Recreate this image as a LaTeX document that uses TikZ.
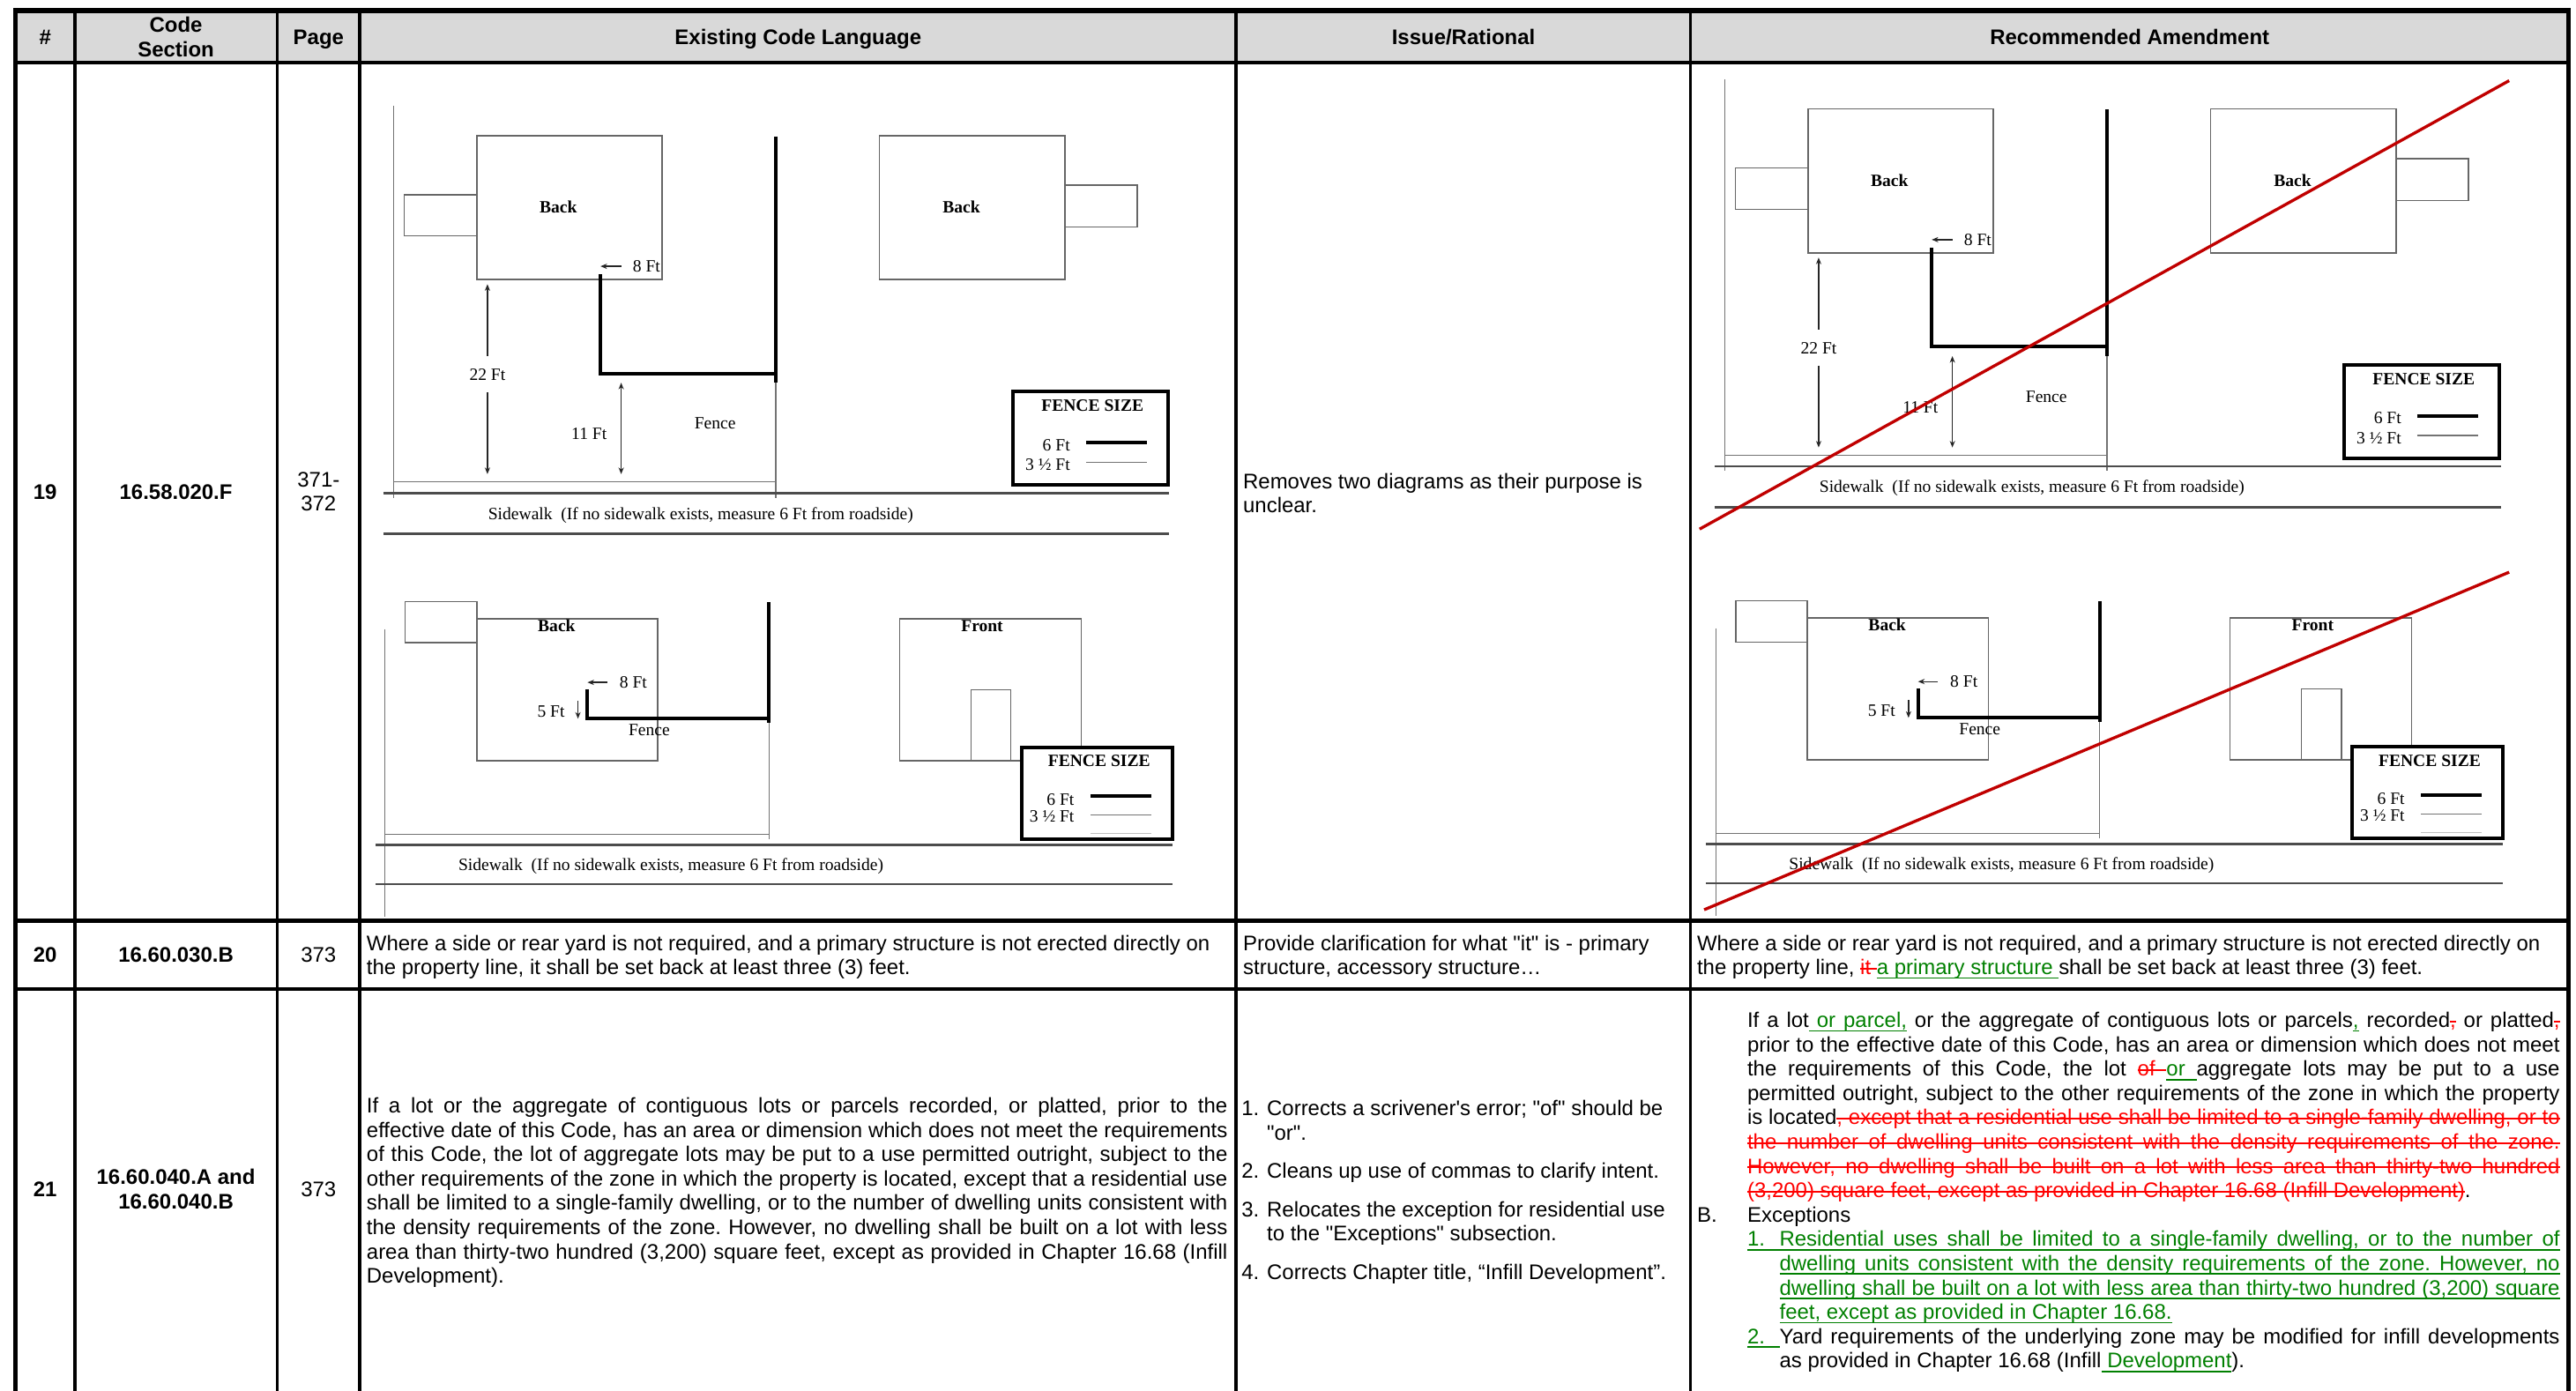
\documentclass[tikz,border=0pt]{standalone}
\usepackage{fontspec}
\setmainfont{Liberation Sans}
\newfontfamily\plainf{Liberation Sans}
\newfontfamily\diafont{Liberation Serif}
\usetikzlibrary{arrows.meta}
\definecolor{insg}{HTML}{008000}
\definecolor{delr}{HTML}{FF0000}
\definecolor{hdrgray}{HTML}{D9D9D9}
\definecolor{xred}{HTML}{C00000}
% own underline / strike-out that keeps spaces stretchable
\newcommand\mkU[1]{\setbox0\hbox{#1}\rlap{\vrule height -1.6pt depth 2.6pt width \wd0}\box0}
\newcommand\mkS[1]{\setbox0\hbox{#1}\rlap{\vrule height 4.1pt depth -3.1pt width \wd0}\box0}
\newcommand\spU{\leaders\hrule height -1.6pt depth 2.6pt\hskip\fontdimen2\font plus\fontdimen3\font minus\fontdimen4\font\relax}
\newcommand\spS{\leaders\hrule height 4.1pt depth -3.1pt\hskip\fontdimen2\font plus\fontdimen3\font minus\fontdimen4\font\relax}
\def\doU#1 #2\relax{\mkU{#1}\ifx\relax#2\relax\else\spU\doU#2\relax\fi}
\def\doS#1 #2\relax{\mkS{#1}\ifx\relax#2\relax\else\spS\doS#2\relax\fi}
\newcommand\ins[1]{{\color{insg}\doU#1 \relax}}
\newcommand\del[1]{{\color{delr}\doS#1 \relax}}
\newcommand\bodyfont{\plainf\fontsize{12.86pt}{14.8pt}\selectfont\frenchspacing}
\newcommand\dfont{\diafont\fontsize{10.5pt}{12pt}\selectfont}
\newcommand\JL[2]{\hbox to #1{#2}}
\tikzset{
  txt/.style={inner sep=0pt, font=\bodyfont},
  hdr/.style={inner sep=0pt, font=\bodyfont\bfseries, align=center},
  dtxt/.style={inner sep=0pt, font=\dfont},
  dbold/.style={inner sep=0pt, font=\dfont\bfseries},
  boxln/.style={draw=black!60, line width=0.8pt},
  thinln/.style={draw=black!55, line width=0.6pt},
  fenceln/.style={draw=black, line width=2.2pt},
  walkln/.style={draw=black!70, line width=1.4pt},
  legbox/.style={draw=black, line width=2pt, fill=white},
  dimarr/.style={draw=black!85, line width=0.7pt, -{Stealth[length=4pt,width=3.2pt]}},
  tabouter/.style={line width=3pt, draw=black},
  tabinner/.style={line width=2pt, draw=black},
  tabrow/.style={line width=2.4pt, draw=black},
  crossout/.style={draw=xred, line width=1.8pt},
  pics/topdiag/.style={code={
    \draw[thinln] (239.5,64.4) -- (239.5,303);
    \draw[thinln] (239.5,293.4) -- (472.2,293.4);
    \draw[boxln] (246,118.5) rectangle (290.2,143.6);
    \draw[boxln] (290.2,82.6) rectangle (403.1,170.2);
    \node[dbold] (-backa) at (339.8,126.1) {Back};
    \draw[dimarr] (378.1,162.1) -- (365.5,162.1);
    \node[dtxt, anchor=west] (-eight) at (385,162.1) {8 Ft};
    \draw[fenceln] (365.5,167) -- (365.5,227.3) -- (472.2,227.3);
    \draw[fenceln] (472.2,83) -- (472.2,233);
    \draw[thinln] (472.2,233) -- (472.2,303);
    \node[dtxt] (-twentytwo) at (296.7,228.2) {22 Ft};
    \draw[dimarr] (296.7,216.7) -- (296.7,173);
    \draw[dimarr] (296.7,238.8) -- (296.7,288.6);
    \draw[dimarr, {Stealth[length=4pt,width=3.2pt]}-{Stealth[length=4pt,width=3.2pt]}] (378.1,233) -- (378.1,288.6);
    \node[dtxt] (-eleven) at (358.6,264.3) {11 Ft};
    \node[dtxt] (-fencea) at (435.3,257.9) {Fence};
    \draw[walkln] (233.4,300.1) -- (711.8,300.1);
    \node[dtxt, anchor=west] (-walka) at (297,313.5) {Sidewalk\ \ (If no sidewalk exists, measure 6 Ft from roadside)};
    \draw[walkln] (233.4,325) -- (711.8,325);
    \draw[boxln] (535.2,82.6) rectangle (648.1,170.2);
    \draw[boxln] (648.1,112.7) rectangle (692.3,138.2);
    \node[dbold] (-backc) at (585.2,126.1) {Back};
    \draw[legbox] (616.6,238.2) rectangle (711.1,295.3);
    \node[dbold] (-fsa) at (665,247) {FENCE SIZE};
    \node[dtxt, anchor=east] (-sixa) at (651.5,270.8) {6 Ft};
    \draw[fenceln] (661,269.3) -- (698,269.3);
    \node[dtxt, anchor=east] (-thra) at (651.5,282.9) {3 ½ Ft};
    \draw[thinln] (661,281.3) -- (698,281.3);
  }},
  pics/botdiag/.style={code={
    \draw[thinln] (234.4,382.9) -- (234.4,558.3);
    \draw[thinln] (234.4,507.8) -- (468.1,507.8);
    \draw[boxln] (246.7,366.2) rectangle (290.2,391.3);
    \draw[boxln] (290.2,376.6) rectangle (400.4,463);
    \node[dbold] (-backb) at (338.8,381) {Back};
    \draw[dimarr] (369.6,415.4) -- (357.6,415.4);
    \node[dtxt, anchor=west] (-eightb) at (377,415.4) {8 Ft};
    \draw[fenceln] (357.6,419.5) -- (357.6,437.1) -- (468.1,437.1);
    \draw[fenceln] (468.1,366.4) -- (468.1,440.1);
    \draw[thinln] (468.1,440.1) -- (468.1,510.8);
    \node[dtxt] (-five) at (335.4,433) {5 Ft};
    \draw[dimarr] (351.8,426.5) -- (351.8,437.5);
    \node[dtxt] (-fenceb) at (395.2,444.6) {Fence};
    \draw[walkln] (228.6,514.4) -- (713.5,514.4);
    \node[dtxt, anchor=west] (-walkb) at (278.9,527.5) {Sidewalk\ \ (If no sidewalk exists, measure 6 Ft from roadside)};
    \draw[walkln] (228.6,538.2) -- (713.5,538.2);
    \draw[boxln] (547.5,376.6) rectangle (658.1,463);
    \node[dbold] (-front) at (597.8,381) {Front};
    \draw[boxln] (591,419.9) rectangle (615.3,463);
    \draw[legbox] (621.8,455) rectangle (713.5,510.8);
    \node[dbold] (-fsb) at (669,463.4) {FENCE SIZE};
    \node[dtxt, anchor=east] (-sixb) at (654,486.7) {6 Ft};
    \draw[fenceln] (663.9,484.5) -- (700.8,484.5);
    \node[dtxt, anchor=east] (-thrb) at (654,497) {3 ½ Ft};
    \draw[thinln] (663.9,496) -- (700.8,496);
    \draw[draw=black!25, line width=0.6pt] (663.9,507.2) -- (700.8,507.2);
  }}
}
\begin{document}
\begin{tikzpicture}[x=1pt,y=-1pt]
\useasboundingbox (0,0) rectangle (1568,846.3);
% header fill
\fill[hdrgray] (9.4,6.3) rectangle (1563.5,38.1);
% diagrams
\pic (et) at (0,0) {topdiag};
\pic (rt) at (810.3,-16.2) {topdiag};
\pic (eb) at (0,0) {botdiag};
\pic (rb) at (809.9,-0.5) {botdiag};
\draw[crossout] (1034.5,322.1) -- (1527.3,49.1);
\draw[crossout] (1037.3,553.8) -- (1527.3,348.3);
% header texts
\node[hdr, anchor=base] (h1) at (27.5,27.3) {\#};
\node[hdr] (h2) at (107.1,22.6) {Code\\Section};
\node[hdr, anchor=base] (h3) at (193.9,27.3) {Page};
\node[hdr, anchor=base] (h4) at (485.8,27.3) {Existing Code Language};
\node[hdr, anchor=base] (h5) at (890.8,27.3) {Issue/Rational};
\node[hdr, anchor=base] (h6) at (1296.3,27.3) {Recommended Amendment};
% row 19
\node[hdr] (n19) at (27.5,299.3) {19};
\node[hdr] (c19) at (107.1,299.3) {16.58.020.F};
\node[txt, align=center] (p19) at (193.9,299.3) {371-\\372};
\node[txt, anchor=base west] (i19) at (756.5,297.5) {\vtop{\bodyfont\hbox{Removes two diagrams as their purpose is}\hbox{unclear.}}};
% row 20
\node[hdr] (n20) at (27.5,581.3) {20};
\node[hdr] (c20) at (107.1,581.3) {16.60.030.B};
\node[txt] (p20) at (193.9,581.3) {373};
\node[txt, anchor=base west] (e20) at (223,578.5) {\vtop{\bodyfont\hbox{Where a side or rear yard is not required, and a primary structure is not erected directly on}\hbox{the property line, it shall be set back at least three (3) feet.}}};
\node[txt, anchor=base west] (i20) at (756.5,578.5) {\vtop{\bodyfont\hbox{Provide clarification for what "it" is - primary}\hbox{structure, accessory structure…}}};
\node[txt, anchor=base west] (r20) at (1032.8,578.5) {\vtop{\bodyfont\lineskiplimit=-\maxdimen\hbox{Where a side or rear yard is not required, and a primary structure is not erected directly on}\hbox{the property line, \del{it }\ins{a primary structure }shall be set back at least three (3) feet.}}};
% row 21
\node[hdr] (n21) at (27.5,724) {21};
\node[hdr] (c21) at (107.1,724) {16.60.040.A and\\16.60.040.B};
\node[txt] (p21) at (193.9,724) {373};
\node[txt, anchor=base west] (e21) at (223,677.5) {\vtop{\bodyfont\lineskiplimit=-\maxdimen
\JL{524pt}{If a lot or the aggregate of contiguous lots or parcels recorded, or platted, prior to the}
\JL{524pt}{effective date of this Code, has an area or dimension which does not meet the requirements}
\JL{524pt}{of this Code, the lot of aggregate lots may be put to a use permitted outright, subject to the}
\JL{524pt}{other requirements of the zone in which the property is located, except that a residential use}
\JL{524pt}{shall be limited to a single-family dwelling, or to the number of dwelling units consistent with}
\JL{524pt}{the density requirements of the zone. However, no dwelling shall be built on a lot with less}
\JL{524pt}{area than thirty-two hundred (3,200) square feet, except as provided in Chapter 16.68 (Infill}
\hbox{Development).}}};
\node[txt, anchor=base west] (i21) at (755.5,679.3) {\vtop{\bodyfont\lineskiplimit=-\maxdimen
\hbox{\makebox[15.5pt][l]{1.}Corrects a scrivener's error; "of" should be}
\hbox{\hskip15.5pt "or".}
\vskip8.5pt
\hbox{\makebox[15.5pt][l]{2.}Cleans up use of commas to clarify intent.}
\vskip8.5pt
\hbox{\makebox[15.5pt][l]{3.}Relocates the exception for residential use}
\hbox{\hskip15.5pt to the "Exceptions" subsection.}
\vskip8.5pt
\hbox{\makebox[15.5pt][l]{4.}Corrects Chapter title, “Infill Development”.}}};
\node[txt, anchor=base west] (r21) at (1032.8,625.5) {\vtop{\bodyfont\lineskiplimit=-\maxdimen
\hbox{\hskip30.6pt\JL{494.5pt}{If a lot\ins{ or parcel,} or the aggregate of contiguous lots or parcels\ins{,} recorded\del{,} or platted\del{,}}}
\hbox{\hskip30.6pt\JL{494.5pt}{prior to the effective date of this Code, has an area or dimension which does not meet}}
\hbox{\hskip30.6pt\JL{494.5pt}{the requirements of this Code, the lot \del{of }\ins{or }aggregate lots may be put to a use}}
\hbox{\hskip30.6pt\JL{494.5pt}{permitted outright, subject to the other requirements of the zone in which the property}}
\hbox{\hskip30.6pt\JL{494.5pt}{is located\del{, except that a residential use shall be limited to a single-family dwelling, or to}}}
\hbox{\hskip30.6pt\JL{494.5pt}{\del{the number of dwelling units consistent with the density requirements of the zone.}}}
\hbox{\hskip30.6pt\JL{494.5pt}{\del{However, no dwelling shall be built on a lot with less area than thirty-two hundred}}}
\hbox{\hskip30.6pt\del{(3,200) square feet, except as provided in Chapter 16.68 (Infill Development)}.}
\hbox{\makebox[30.6pt][l]{B.}Exceptions}
\hbox{\hskip30.6pt\JL{494.5pt}{\ins{\makebox[19.6pt][l]{1.}Residential uses shall be limited to a single-family dwelling, or to the number of}}}
\hbox{\hskip50.2pt\JL{474.9pt}{\ins{dwelling units consistent with the density requirements of the zone. However, no}}}
\hbox{\hskip50.2pt\JL{474.9pt}{\ins{dwelling shall be built on a lot with less area than thirty-two hundred (3,200) square}}}
\hbox{\hskip50.2pt\ins{feet, except as provided in Chapter 16.68.}}
\hbox{\hskip30.6pt\JL{494.5pt}{\ins{\makebox[19.6pt][l]{2.}}Yard requirements of the underlying zone may be modified for infill developments}}
\hbox{\hskip50.2pt as provided in Chapter 16.68 (Infill\ins{ Development}).}}};
% table lines
\draw[tabouter] (9.4,6.3) -- (1563.5,6.3);
\draw[tabrow] (9.4,38.1) -- (1563.5,38.1);
\draw[tabrow] (9.4,560.5) -- (1563.5,560.5);
\draw[tabrow] (9.4,602) -- (1563.5,602);
\draw[tabouter] (9.4,4.8) -- (9.4,850);
\draw[tabouter] (1563.5,4.8) -- (1563.5,850);
\foreach \cx in {45.5,168.7,219,752.5,1029} {
  \draw[tabinner] (\cx,6.3) -- (\cx,850);
}
\end{tikzpicture}
\end{document}
